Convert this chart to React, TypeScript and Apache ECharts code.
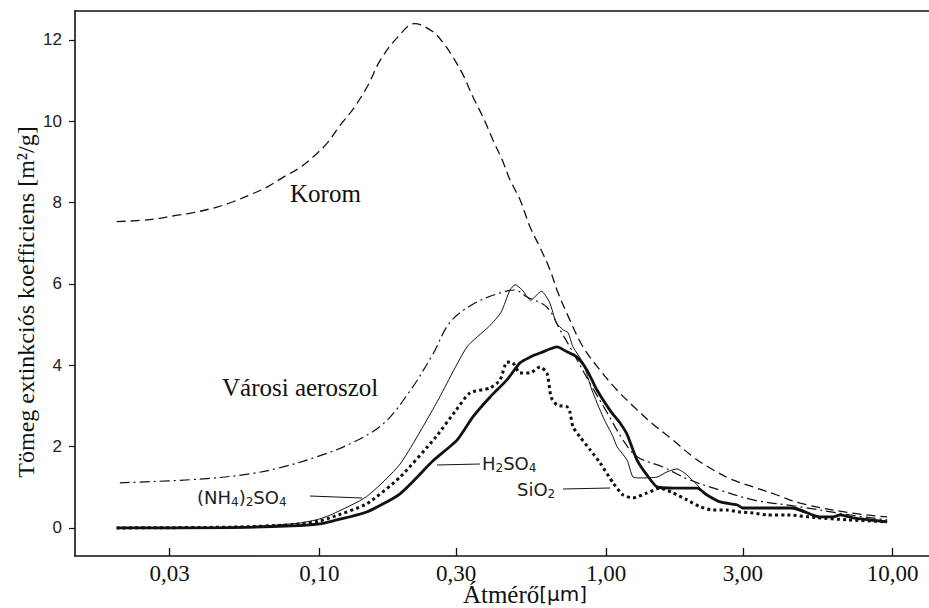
import React, { useEffect, useRef } from 'react';
import * as echarts from 'echarts';

// Tick values
const xTicks = [0.03, 0.1, 0.3, 1, 3, 10];
const yTicks = [0, 2, 4, 6, 8, 10, 12];

// Series data: [diameter (µm), mass extinction coefficient (m²/g)]
const korom = [
  [0.0196, 7.53], [0.0256, 7.58], [0.0308, 7.67], [0.0362, 7.75], [0.0439, 7.89], [0.0499, 8.02],
  [0.0586, 8.22], [0.0656, 8.38], [0.0746, 8.62], [0.0855, 8.86], [0.0949, 9.12], [0.106, 9.45],
  [0.118, 9.9], [0.131, 10.3], [0.1465, 10.84], [0.163, 11.5], [0.1865, 12.05], [0.215, 12.4],
  [0.249, 12.2], [0.27, 11.93], [0.292, 11.58], [0.317, 11.14], [0.343, 10.6], [0.372, 10.1],
  [0.403, 9.54], [0.434, 9.05], [0.462, 8.56], [0.501, 8.07], [0.543, 7.4], [0.588, 6.9],
  [0.638, 6.34], [0.68, 5.78], [0.748, 5.11], [0.831, 4.45], [0.953, 3.88], [1.092, 3.39],
  [1.242, 3.0], [1.459, 2.55], [1.713, 2.16], [2.01, 1.75], [2.36, 1.43], [2.77, 1.18],
  [3.26, 1.01], [3.95, 0.81], [4.75, 0.61], [7.11, 0.37], [9.57, 0.27],
];

const varosi = [
  [0.0201, 1.11], [0.0383, 1.2], [0.0572, 1.33], [0.0746, 1.5], [0.098, 1.75], [0.128, 2.07],
  [0.167, 2.56], [0.207, 3.37], [0.249, 4.28], [0.285, 5.05], [0.343, 5.5], [0.427, 5.78],
  [0.48, 5.85], [0.53, 5.68], [0.622, 5.43], [0.691, 4.87], [0.748, 4.45], [0.88, 3.55],
  [1.01, 2.83], [1.147, 2.16], [1.283, 1.75], [1.58, 1.5], [1.96, 1.18], [2.5, 0.93],
  [3.26, 0.69], [4.75, 0.52], [7.11, 0.32], [9.57, 0.2],
];

const nh4so4 = [
  [0.0196, 0], [0.04, 0.01], [0.06, 0.04], [0.0855, 0.12], [0.1, 0.22], [0.111, 0.34],
  [0.146, 0.77], [0.191, 1.57], [0.255, 3.05], [0.327, 4.45], [0.39, 4.95], [0.43, 5.3],
  [0.462, 5.85], [0.482, 5.98], [0.51, 5.85], [0.545, 5.6], [0.595, 5.82], [0.635, 5.55],
  [0.67, 5.05], [0.708, 4.87], [0.737, 4.8], [0.767, 4.45], [0.831, 4.06], [0.893, 3.39],
  [0.976, 2.73], [1.058, 2.24], [1.092, 2.0], [1.184, 1.67], [1.242, 1.25], [1.314, 1.23],
  [1.506, 1.25], [1.633, 1.38], [1.769, 1.45], [1.917, 1.3], [2.078, 1.06], [2.25, 0.81],
  [2.5, 0.64], [2.87, 0.57], [3.0, 0.49], [4.3, 0.49], [5.58, 0.27], [6.2, 0.27],
  [6.56, 0.32], [7.28, 0.25], [9.57, 0.17],
];

const h2so4 = [
  [0.0196, 0], [0.05, 0.01], [0.08, 0.05], [0.1, 0.1], [0.111, 0.17], [0.146, 0.39],
  [0.191, 0.84], [0.249, 1.65], [0.302, 2.16], [0.343, 2.73], [0.394, 3.22], [0.451, 3.64],
  [0.501, 4.06], [0.543, 4.2], [0.588, 4.3], [0.675, 4.45], [0.731, 4.33], [0.792, 4.2],
  [0.858, 3.88], [0.93, 3.39], [1.04, 2.86], [1.119, 2.58], [1.184, 2.3], [1.283, 1.67],
  [1.39, 1.3], [1.506, 1.01], [1.713, 0.98], [2.078, 0.98], [2.25, 0.81], [2.5, 0.64],
  [2.86, 0.57], [3.0, 0.49], [4.05, 0.49], [4.5, 0.49], [5.58, 0.27], [6.2, 0.27],
  [6.56, 0.32], [7.28, 0.25], [9.57, 0.15],
];

const sio2 = [
  [0.0196, 0], [0.05, 0.02], [0.08, 0.08], [0.1, 0.17], [0.111, 0.27], [0.146, 0.59],
  [0.191, 1.25], [0.255, 2.24], [0.3, 2.9], [0.335, 3.32], [0.394, 3.44], [0.427, 3.64],
  [0.451, 4.08], [0.473, 4.06], [0.501, 3.81], [0.543, 3.81], [0.588, 3.96], [0.622, 3.81],
  [0.643, 3.22], [0.675, 3.02], [0.731, 2.98], [0.748, 2.85], [0.767, 2.48], [0.811, 2.24],
  [0.88, 1.92], [0.953, 1.6], [1.06, 1.1], [1.146, 0.81], [1.242, 0.74], [1.39, 0.86],
  [1.543, 0.98], [1.713, 0.86], [1.917, 0.69], [2.13, 0.52], [2.36, 0.44], [2.64, 0.44],
  [2.94, 0.39], [3.26, 0.37], [3.65, 0.32], [4.28, 0.32], [5.45, 0.25], [6.94, 0.2],
  [9.57, 0.15],
];

const INK = '#111';
const SERIF = '"Liberation Serif", "Times New Roman", serif';
const SANS = '"DejaVu Sans", sans-serif';

function formula(parts: [string, boolean][]) {
  return parts.map(([t, sub]) => `{${sub ? 's' : 'n'}|${t}}`).join('');
}
const formulaRich = {
  n: { fontSize: 18, fontFamily: SANS, lineHeight: 22, fill: '#222' },
  s: { fontSize: 12, fontFamily: SANS, lineHeight: 12, verticalAlign: 'bottom', fill: '#222' },
};

export default function App() {
  const ref = useRef<HTMLDivElement>(null);

  useEffect(() => {
    if (!ref.current) return;
    const chart = echarts.init(ref.current, null, { renderer: 'svg' });

    const mk = (name: string, data: number[][], lineStyle: any, smooth: number | boolean, z = 3) => ({
      type: 'line',
      name,
      data,
      xAxisIndex: 0,
      yAxisIndex: 0,
      symbol: 'none',
      showSymbol: false,
      smooth,
      z,
      lineStyle: { color: INK, ...lineStyle },
    });

    chart.setOption({
      animation: false,
      backgroundColor: '#fff',
      grid: { left: 75, right: 0, top: 11, bottom: 52, containLabel: false, outerBoundsMode: 'none' },
      xAxis: [
        {
          type: 'log',
          logBase: 10,
          min: 0.01402,
          max: 13.4,
          position: 'bottom',
          axisLine: { show: true, onZero: false, lineStyle: { color: INK, width: 1.6 } },
          axisTick: { show: true, inside: true, length: 8, customValues: xTicks, lineStyle: { color: INK, width: 1.3 } },
          minorTick: { show: false },
          axisLabel: {
            customValues: xTicks,
            formatter: (v: number) => v.toFixed(2).replace('.', ','),
            fontFamily: SERIF,
            fontSize: 23,
            color: '#111',
            margin: 6,
          },
          splitLine: { show: false },
        },
        {
          type: 'log',
          logBase: 10,
          min: 0.01402,
          max: 13.4,
          position: 'top',
          axisLine: { show: true, onZero: false, lineStyle: { color: INK, width: 1.6 } },
          axisTick: { show: false },
          axisLabel: { show: false },
          splitLine: { show: false },
        },
      ],
      yAxis: {
        type: 'value',
        min: -0.69,
        max: 12.71,
        axisLine: { show: true, onZero: false, lineStyle: { color: INK, width: 1.6 } },
        axisTick: { show: true, inside: false, length: 6, customValues: yTicks, lineStyle: { color: INK, width: 1.2 } },
        axisLabel: {
          customValues: yTicks,
          fontFamily: '"Liberation Sans", Arial, sans-serif',
          fontSize: 17,
          color: '#222',
          margin: 13,
        },
        splitLine: { show: false },
      },
      series: [
        mk('Korom', korom, { width: 1.3, type: [9, 5] }, 0.35),
        mk('Városi aeroszol', varosi, { width: 1.2, type: [10, 4, 2, 4] }, 0.35),
        mk('(NH4)2SO4', nh4so4, { width: 1.0 }, 0.2),
        mk('H2SO4', h2so4, { width: 2.8 }, 0.2, 4),
        mk('SiO2', sio2, { width: 3, type: [3, 3.2] }, 0.2, 4),
      ],
      graphic: [
        {
          type: 'text',
          style: { text: 'Korom', x: 290, y: 193, align: 'left', verticalAlign: 'middle', fontSize: 25, fontFamily: SERIF, fill: '#111' },
        },
        {
          type: 'text',
          style: { text: 'Városi aeroszol', x: 222, y: 387, align: 'left', verticalAlign: 'middle', fontSize: 25, fontFamily: SERIF, fill: '#111' },
        },
        {
          type: 'text',
          style: {
            text: formula([['(NH', false], ['4', true], [')', false], ['2', true], ['SO', false], ['4', true]]),
            rich: formulaRich,
            x: 197, y: 497, align: 'left', verticalAlign: 'middle',
          },
        },
        {
          type: 'text',
          style: {
            text: formula([['H', false], ['2', true], ['SO', false], ['4', true]]),
            rich: formulaRich,
            x: 482, y: 463, align: 'left', verticalAlign: 'middle',
          },
        },
        {
          type: 'text',
          style: {
            text: formula([['SiO', false], ['2', true]]),
            rich: formulaRich,
            x: 517, y: 489, align: 'left', verticalAlign: 'middle',
          },
        },
        { type: 'line', shape: { x1: 310, y1: 496, x2: 362, y2: 498 }, style: { stroke: INK, lineWidth: 1 } },
        { type: 'line', shape: { x1: 437, y1: 465, x2: 480, y2: 464 }, style: { stroke: INK, lineWidth: 1 } },
        { type: 'line', shape: { x1: 563, y1: 489, x2: 610, y2: 488 }, style: { stroke: INK, lineWidth: 1 } },
        {
          type: 'text',
          x: 26,
          y: 302,
          rotation: Math.PI / 2,
          style: {
            text: 'Tömeg extinkciós koefficiens [m²/g]',
            align: 'center', verticalAlign: 'middle', fontSize: 24, fontFamily: SERIF, fill: '#111',
          },
        },
        {
          type: 'text',
          style: {
            text: '{a|Átmérő}{b|[μm]}',
            rich: {
              a: { fontSize: 25, fontFamily: SERIF, fill: '#111' },
              b: { fontSize: 20, fontFamily: SANS, fill: '#111' },
            },
            x: 525, y: 594, align: 'center', verticalAlign: 'middle',
          },
        },
      ],
    });

    return () => chart.dispose();
  }, []);

  return (
    <div
      ref={ref}
      style={{ position: 'fixed', left: 0, top: 0, width: 929, height: 608, background: '#fff' }}
    />
  );
}
